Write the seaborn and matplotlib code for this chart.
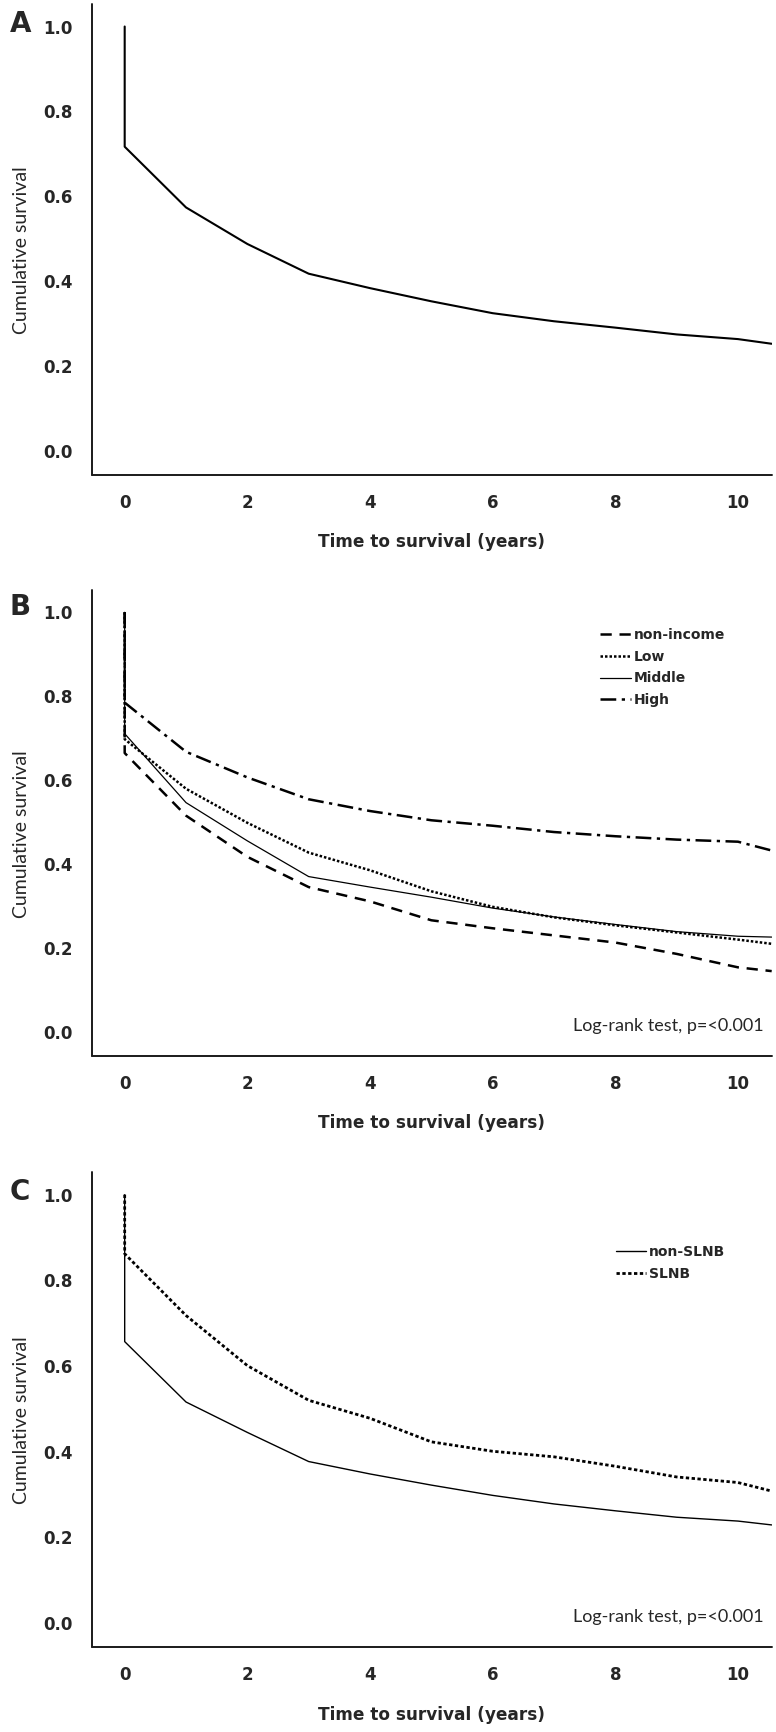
import matplotlib
matplotlib.use("Agg")
import matplotlib.pyplot as plt
from matplotlib.ticker import FormatStrFormatter
import seaborn as sns

# follow-up time (years); 0 is listed twice for the drop at the start
years = [0, 0, 1, 2, 3, 4, 5, 6, 7, 8, 9, 10, 10.55]

# A - all patients
overall = [1.0, 0.717, 0.574, 0.488, 0.418, 0.384, 0.353, 0.325, 0.306, 0.291, 0.275, 0.264, 0.253]

# B - income level
non_income = [1.0, 0.665, 0.516, 0.418, 0.346, 0.312, 0.267, 0.248, 0.231, 0.214, 0.187, 0.155, 0.146]
low_income = [1.0, 0.698, 0.580, 0.499, 0.428, 0.386, 0.336, 0.299, 0.274, 0.255, 0.238, 0.221, 0.211]
mid_income = [1.0, 0.711, 0.547, 0.456, 0.371, 0.346, 0.322, 0.296, 0.275, 0.257, 0.240, 0.229, 0.227]
high_income = [1.0, 0.785, 0.668, 0.607, 0.555, 0.527, 0.505, 0.492, 0.477, 0.467, 0.459, 0.454, 0.433]
income_labels = ["non-income", "Low", "Middle", "High"]

# C - sentinel lymph node biopsy
non_slnb = [1.0, 0.657, 0.516, 0.445, 0.377, 0.348, 0.322, 0.298, 0.278, 0.262, 0.247, 0.238, 0.229]
slnb = [1.0, 0.862, 0.718, 0.601, 0.520, 0.478, 0.423, 0.401, 0.388, 0.366, 0.341, 0.328, 0.308]
slnb_labels = ["non-SLNB", "SLNB"]

x_ticks = [0, 2, 4, 6, 8, 10]
y_ticks = [0.0, 0.2, 0.4, 0.6, 0.8, 1.0]
logrank_text = "Log-rank test, p=<0.001"

# line looks (dash patterns are in units of line width)
DASHED = (0, (4.5, 3.1))
DOTTED = (0, (1.0, 0.8))
DASHDOT = (0, (6.3, 2.2, 1.3, 2.2))
SMALLDOT = (0, (1.2, 0.9))

sns.set_style("white")
plt.rcParams["font.family"] = ["DejaVu Sans"]
plt.rcParams["font.weight"] = "bold"
LIGHT_FONT = ["Lato", "DejaVu Sans"]

W, H = 776, 1732
fig = plt.figure(figsize=(W / 100, H / 100), dpi=100)


def make_axes(top_px, bottom_px):
    left, right = 92, 772
    return fig.add_axes([left / W, 1 - bottom_px / H, (right - left) / W, (bottom_px - top_px) / H])


def style_axes(ax):
    for side in ["top", "right"]:
        ax.spines[side].set_visible(False)
    # ticks float a little outside the axis lines, like the SPSS output
    for side in ["left", "bottom"]:
        ax.spines[side].set_position(("outward", 3))
        ax.spines[side].set_color("none")
    ax.plot([0, 0], [0, 1], transform=ax.transAxes, color="#1a1a1a", lw=1.4, clip_on=False)
    ax.plot([0, 1], [0, 0], transform=ax.transAxes, color="#1a1a1a", lw=1.4, clip_on=False)
    ax.set_xlim(-0.533, 10.555)
    ax.set_ylim(-0.056, 1.053)
    ax.set_xticks(x_ticks)
    ax.set_yticks(y_ticks)
    ax.yaxis.set_major_formatter(FormatStrFormatter("%.1f"))
    ax.tick_params(direction="out", length=6, width=0.8, color="#777777", pad=5, labelsize=12)
    ax.set_xlabel("Time to survival (years)", fontsize=12.2, fontweight="bold", va="top")
    ax.xaxis.set_label_coords(0.5, -0.124)
    ax.set_ylabel("Cumulative survival", fontsize=14, fontweight="normal", family=LIGHT_FONT)
    ax.yaxis.set_label_coords(-0.091, 0.477)


def draw_curves(ax, curves, labels, styles, widths):
    for vals, lab, ls, lw in zip(curves, labels, styles, widths):
        sns.lineplot(x=years, y=vals, ax=ax, color="black", linestyle=ls, lw=lw,
                     estimator=None, sort=False, label=lab)


# ---- A
axA = make_axes(4, 475)
draw_curves(axA, [overall], [None], ["-"], [1.5])
if axA.get_legend() is not None:
    axA.get_legend().remove()
style_axes(axA)

# ---- B
axB = make_axes(590, 1056)
draw_curves(axB, [non_income, low_income, mid_income, high_income], income_labels,
            [DASHED, DOTTED, "-", DASHDOT], [1.8, 1.8, 0.9, 1.8])
style_axes(axB)
axB.legend(loc="upper left", bbox_to_anchor=(0.737, 0.933), frameon=False, borderpad=0,
           handlelength=2.2, handletextpad=0.2, labelspacing=0.55, prop={"size": 10, "weight": "bold"})
axB.text(0.987, 0.054, logrank_text, transform=axB.transAxes, ha="right", va="baseline",
         fontsize=13, fontweight="normal", family=LIGHT_FONT)

# ---- C
axC = make_axes(1172, 1647)
draw_curves(axC, [non_slnb, slnb], slnb_labels, ["-", SMALLDOT], [1.0, 2.0])
style_axes(axC)
axC.legend(loc="upper left", bbox_to_anchor=(0.760, 0.861), frameon=False, borderpad=0,
           handlelength=2.2, handletextpad=0.2, labelspacing=0.55, prop={"size": 10, "weight": "bold"})
axC.text(0.987, 0.053, logrank_text, transform=axC.transAxes, ha="right", va="baseline",
         fontsize=13, fontweight="normal", family=LIGHT_FONT)

# panel letters
for letter, base_px in [("A", 32), ("B", 615), ("C", 1200)]:
    fig.text(10 / W, 1 - base_px / H, letter, fontsize=20, fontweight="bold", va="baseline")

fig.savefig("out.png", dpi=100, facecolor="white")
